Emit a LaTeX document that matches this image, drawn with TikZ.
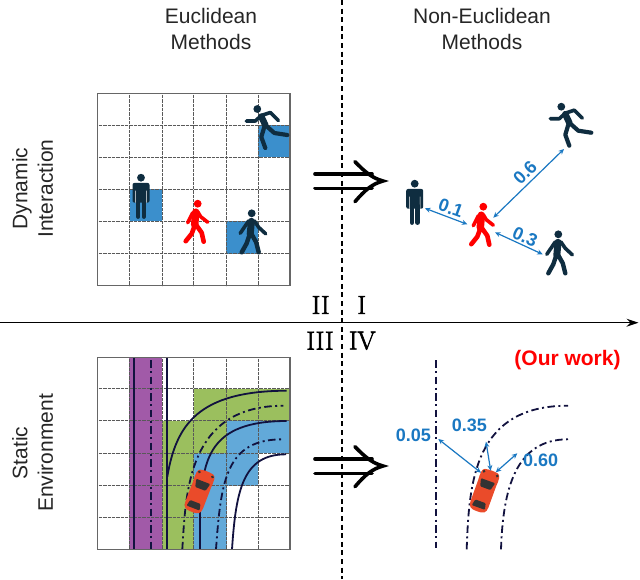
\documentclass[tikz,border=0pt]{standalone}
\usepackage{fontspec}
\setsansfont{Liberation Sans}
\newfontfamily\numeralfont[FakeBold=2.5]{Latin Modern Roman}
\usetikzlibrary{arrows.meta}
\definecolor{darkfig}{HTML}{0F2D40}
\definecolor{cellblue}{HTML}{3B8FCC}
\definecolor{laneblue}{HTML}{62A9D9}
\definecolor{lanegreen}{HTML}{9BBF5E}
\definecolor{lanepurple}{HTML}{A15AA8}
\definecolor{roadink}{HTML}{12123F}
\definecolor{carred}{HTML}{EA4B2A}
\definecolor{valblue}{HTML}{1A78C2}
\tikzset{
  x=1pt,y=-1pt,
  title/.style={font=\sffamily\fontsize{21}{25.5}\selectfont,align=center,text=black!85,inner sep=0pt},
  numeral/.style={font=\numeralfont\fontsize{26}{26}\selectfont,inner sep=0pt},
  val/.style={font=\sffamily\bfseries\fontsize{18}{18}\selectfont,text=valblue,inner sep=0pt},
  gridline/.style={line width=.7pt,dash pattern=on .8pt off .5pt,draw=black!65},
  frame/.style={line width=1.2pt,draw=black!60},
  road/.style={line width=1.8pt,draw=roadink},
  roaddash/.style={road,dash pattern=on 7.5pt off 3.5pt on 2pt off 3.5pt},
  dist/.style={{Stealth[open,length=5.5pt,width=5pt]}-{Stealth[open,length=5.5pt,width=5pt]},line width=1.2pt,draw=valblue},
  implies/.style={line width=3.6pt,line cap=round,line join=miter,draw=black},
  limb/.style={line cap=round,line join=round},
  pics/standing/.style={code={
    \fill[#1] (0,0) circle (3.9);
    \fill[#1,rounded corners=2pt] (-8.5,5.2) rectangle (8.5,25);
    \fill[white] (-5.6,13) rectangle (-5.1,25) (5.1,13) rectangle (5.6,25);
    \draw[#1,limb,line width=4.4pt] (-2.8,22) -- (-2.8,39) (2.8,22) -- (2.8,39);
  }},
  pics/walking/.style={code={
    \fill[#1] (0,0) circle (3.9);
    \draw[#1,limb,line width=7pt] (-.3,8) -- (-1.5,21);
    \draw[#1,limb,line width=3.6pt] (-3,7.5) -- (-11.5,20) (2.5,7.5) -- (7,14) -- (14,20.5);
    \draw[#1,limb,line width=4.4pt] (-2,21) -- (-5,30) -- (-10,39) (0,21) -- (4.5,29) -- (7,39);
  }},
  pics/redwalking/.style={code={
    \fill[#1] (0,0) circle (3.9);
    \draw[#1,limb,line width=7.5pt] (-2,8.5) -- (-3,21);
    \draw[#1,limb,line width=3.6pt] (-5,9) -- (-10,19) (0,8) -- (3,13) -- (10,18.5);
    \draw[#1,limb,line width=4.6pt] (-3,22) -- (-6,30) -- (-12,37.5) (-1,22) -- (4,29) -- (6,38);
  }},
  pics/running/.style={code={
    \fill[#1] (0,0) circle (3.9);
    \draw[#1,limb,line width=6.5pt] (4,7.5) -- (8,16);
    \draw[#1,limb,line width=3.6pt] (4,6.5) -- (-2,12) -- (-11,12) (4,6.5) -- (13,3.5) -- (21,11.5);
    \draw[#1,limb,line width=4.2pt] (8,16) -- (17,24) -- (30,26) (7,18) -- (4,28) -- (8,39);
  }},
  pics/car/.style={code={
    \fill[carred] (-7,-21) .. controls (-3,-22) and (3,-22) .. (7,-21) .. controls (10,-20) and (10,-15) .. (9.5,-8)
       -- (9.5,14) .. controls (9.5,20) and (7,21.5) .. (0,21.5) .. controls (-7,21.5) and (-9.5,20) .. (-9.5,14)
       -- (-9.5,-8) .. controls (-10,-15) and (-10,-20) .. (-7,-21) -- cycle;
    \fill[black!80,rounded corners=1pt] (-7.5,-11) -- (7.5,-11) -- (5.5,-3) -- (-5.5,-3) -- cycle;
    \fill[black!80,rounded corners=1pt] (-5.5,11) -- (5.5,11) -- (7,17.5) -- (-7,17.5) -- cycle;
    \fill[black!80] (-7,-18.5) circle (1.5) (7,-18.5) circle (1.5);
  }}
}
\begin{document}
\begin{tikzpicture}
\fill[white] (0,0) rectangle (640,579);
\useasboundingbox (0,0) rectangle (640,579);

% --- top-left grid
\fill[cellblue] (258.3,125) rectangle (290,157.3);
\fill[cellblue] (129.7,189.3) rectangle (162,221.3);
\fill[cellblue] (226.3,221.3) rectangle (258.3,253.7);
\foreach \gx in {129.7,162,193.7,226.3,258.3} \draw[gridline] (\gx,93.3) -- (\gx,285.7);
\foreach \gy in {125,157.3,189.3,221.3,253.7} \draw[gridline] (97.3,\gy) -- (290,\gy);
\draw[frame] (97.3,93.3) rectangle (290,285.7);
\pic at (257.3,109) {running=darkfig};
\pic at (141,177.7) {standing=darkfig};
\pic at (197.7,203.7) {redwalking=red};
\pic at (251.7,213.3) {walking=darkfig};

% --- bottom-left grid
\fill[lanepurple] (129.3,357.3) rectangle (162,549.3);
\fill[lanegreen] (194,388.7) rectangle (290,420.7);
\fill[lanegreen] (162,420.7) rectangle (226.7,453.3);
\fill[lanegreen] (162,453.3) rectangle (194,549.3);
\fill[laneblue] (226.7,420.7) rectangle (290,453.3);
\fill[laneblue] (194,453.3) rectangle (258.3,485.7);
\fill[laneblue] (194,485.7) rectangle (226.7,549.3);
\foreach \gx in {129.7,162,193.7,226.3,258.3} \draw[gridline] (\gx,357.3) -- (\gx,549.3);
\foreach \gy in {388.7,420.7,453.3,485.7,517.3} \draw[gridline] (97.3,\gy) -- (290,\gy);
\draw[road] (134.3,357.3) -- (134.3,549.3);
\draw[roaddash] (150.7,360) -- (150.7,549.3);
\draw[road] (167.3,357.3) -- (167.3,549.3);
\draw[road] (167.3,476.7) .. controls (176,425) and (198,391) .. (286.7,390.7);
\draw[roaddash] (182.3,549.3) .. controls (186,490) and (188,406) .. (283.3,405.7);
\draw[road] (200,549.3) -- (200,510) .. controls (203,460) and (208,421) .. (286.7,421);
\draw[roaddash] (216,549.3) .. controls (221,480) and (226,439) .. (283.3,439.3);
\draw[road] (232,549.3) .. controls (236,490) and (243,454.3) .. (286,454.3);
\draw[frame] (97.3,357.3) rectangle (290,549.3);
\pic[rotate=-21] at (199.3,491.7) {car};

% --- right scenes
\pic at (561.3,106.7) {running=darkfig};
\pic at (558.3,234.3) {walking=darkfig};
\pic at (414.7,183.7) {standing=darkfig};
\pic at (483.3,206.7) {redwalking=red};
\coordinate (pA) at (425,208.3);
\coordinate (pB) at (467.3,224.3);
\coordinate (pC) at (493.3,217.7);
\coordinate (pD) at (564,149);
\coordinate (pE) at (495,232.3);
\coordinate (pF) at (542.7,254.3);
\draw[dist] (pA) -- (pB);
\draw[dist] (pC) -- (pD);
\draw[dist] (pE) -- (pF);
\node[val,rotate=-20] (v1) at (451,208.3) {0.1};
\node[val,rotate=45] (v6) at (525,172.7) {0.6};
\node[val,rotate=-24] (v3) at (525,236.7) {0.3};

\draw[roaddash] (435.7,360) -- (435.7,548);
\draw[roaddash] (466.7,549.3) .. controls (469,480) and (475,405.7) .. (568,405.7);
\draw[roaddash] (501,549.3) .. controls (503,490) and (515,439.3) .. (568,439.3);
\pic[rotate=-20] at (484.3,491) {car};
\coordinate (qA) at (438.3,439);
\coordinate (qB) at (481,472.7);
\coordinate (qC) at (486,441.7);
\coordinate (qD) at (490.7,470.7);
\coordinate (qE) at (495.7,472.3);
\coordinate (qF) at (517.3,453.3);
\draw[dist] (qA) -- (qB);
\draw[dist] (qC) -- (qD);
\draw[dist] (qE) -- (qF);
\node[val] (w1) at (413.3,435) {0.05};
\node[val] (w2) at (469.3,425) {0.35};
\node[val] (w3) at (540.7,460) {0.60};
\node[font=\sffamily\bfseries\fontsize{21}{21}\selectfont,text=red,inner sep=0pt] (ours) at (567.5,360) {(Our work)};

% --- axes
\coordinate (axL) at (0,322.7);
\coordinate (axR) at (638.5,322.7);
\coordinate (axT) at (341.7,0);
\coordinate (axB) at (341.7,579);
\draw[line width=1.3pt,-{Stealth[length=12pt,width=8pt,inset=4pt]}] (axL) -- (axR);
\draw[line width=1.8pt,dash pattern=on 5pt off 3.6pt] (axT) -- (axB);

% --- implication arrows
\draw[implies] (315,174) -- (372,174) (315,188.3) -- (372,188.3);
\draw[implies] (355,161.7) .. controls (365,172) and (372,178) .. (383,181) .. controls (372,184) and (365,190) .. (355,201.7);
\draw[implies] (315,459) -- (372,459) (315,473.3) -- (372,473.3);
\draw[implies] (355,446.7) .. controls (365,457) and (372,463) .. (383,466) .. controls (372,469) and (365,475) .. (355,486.7);

% --- text
\node[title] (t1) at (211,29) {Euclidean\\Methods};
\node[title] (t2) at (482,29) {Non-Euclidean\\Methods};
\node[title,rotate=90] (t3) at (32.5,188.5) {Dynamic\\Interaction};
\node[title,rotate=90] (t4) at (32.5,453) {Static\\Environment};
\node[numeral] (n2) at (320.7,305) {II};
\node[numeral] (n1) at (361.7,305) {I};
\node[numeral] (n3) at (320,340.7) {III};
\node[numeral] (n4) at (362.3,340.7) {IV};
\end{tikzpicture}
\end{document}
